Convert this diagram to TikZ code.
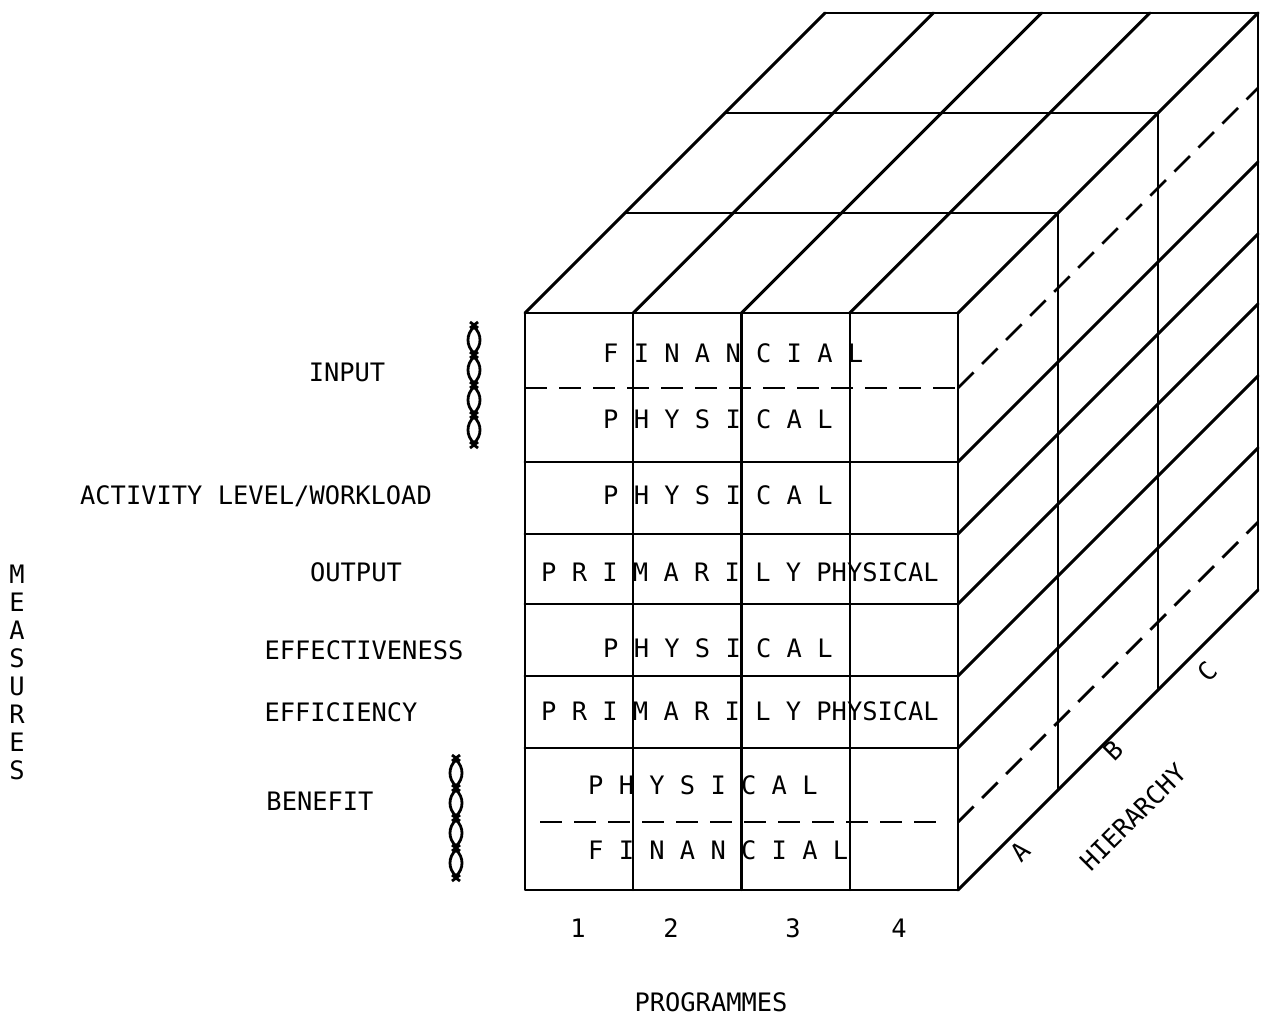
\documentclass[tikz,border=0pt]{standalone}
\usepackage{fontspec}
\newfontfamily\plotfont{DejaVu Sans Mono}
\begin{document}
\begin{tikzpicture}[x=1pt,y=-1pt,
  edge/.style={line width=2.9pt, line cap=round, line join=round},
  thin edge/.style={line width=2.3pt, line cap=round},
  split/.style={line width=2.8pt, dash pattern=on 22pt off 12pt},
  lbl/.style={font=\plotfont\fontsize{25.4}{30}\selectfont, inner sep=0pt,
              text height=18.5pt, text depth=0pt},
  rowtext/.style={lbl, anchor=west},
  axislabel/.style={lbl, anchor=center},
  link/.style={line width=2.8pt}
]
\useasboundingbox (0,0) rectangle (1269,1017);

% ---------- front face (measures x programmes) ----------
\draw[edge] (525,313) rectangle (958,890);
\foreach \x in {633.25,741.5,849.75}
  \draw[thin edge] (\x,313) -- (\x,890);
\foreach \y in {462,534,604,676,748}
  \draw[edge] (525,\y) -- (958,\y);
\draw[split] (525,388) -- (958,388);
\draw[split] (540,822) -- (940,822);

% ---------- top face ----------
\draw[edge] (625,213) -- (1058,213);
\draw[edge] (725,113) -- (1158,113);
\draw[edge] (825,13) -- (1258,13);
\foreach \x in {525,633.25,741.5,849.75,958}
  \draw[edge] (\x,313) -- (\x+300,13);

% ---------- right face (hierarchy A, B, C) ----------
\draw[edge] (1058,213) -- (1058,790);
\draw[edge] (1158,113) -- (1158,690);
\draw[edge] (1258,13) -- (1258,590);
\foreach \y in {462,534,604,676,748,890}
  \draw[edge] (958,\y) -- (1258,\y-300);
\draw[split] (958,388) -- (1258,88);
\draw[split] (958,822) -- (1258,522);

% ---------- cell texts ----------
\node[rowtext] (r1) at (603,353) {F I N A N C I A L};
\node[rowtext] (r2) at (603,419) {P H Y S I C A L};
\node[rowtext] (r3) at (603,495) {P H Y S I C A L};
\node[rowtext] (r4) at (541,572) {P R I M A R I L Y PHYSICAL};
\node[rowtext] (r5) at (603,648) {P H Y S I C A L};
\node[rowtext] (r6) at (541,711) {P R I M A R I L Y PHYSICAL};
\node[rowtext] (r7) at (588,785) {P H Y S I C A L};
\node[rowtext] (r8) at (588,850) {F I N A N C I A L};

% ---------- measure labels ----------
\node[axislabel] (input)    at (347,372) {INPUT};
\node[axislabel] (activity) at (256,495) {ACTIVITY LEVEL/WORKLOAD};
\node[axislabel] (output)   at (356,572) {OUTPUT};
\node[axislabel] (effect)   at (364,650) {EFFECTIVENESS};
\node[axislabel] (effic)    at (341,712) {EFFICIENCY};
\node[axislabel] (benefit)  at (320,801) {BENEFIT};

\foreach \c [count=\i from 0] in {M,E,A,S,U,R,E,S}
  \node[axislabel] (measure\i) at (17,574+28*\i) {\c};

% ---------- chain braces ----------
\foreach \xc/\ys in {474/325, 456/758} {
  \foreach \k in {0,1,2,3} {
    \pgfmathsetmacro\ya{\ys+30*\k}
    \pgfmathsetmacro\yb{\ys+30*\k+30}
    \draw[link] (\xc,\ya+2) .. controls (\xc-8,\ya+9) and (\xc-8,\yb-9) .. (\xc,\yb-2)
                .. controls (\xc+8,\yb-9) and (\xc+8,\ya+9) .. cycle;
  }
  \foreach \k in {0,1,2,3,4} {
    \pgfmathsetmacro\yj{\ys+30*\k}
    \draw[link] (\xc-4,\yj-3) -- (\xc+4,\yj+3);
    \draw[link] (\xc+4,\yj-3) -- (\xc-4,\yj+3);
  }
}

% ---------- programme numbers ----------
\node[axislabel] (p1) at (578,928) {1};
\node[axislabel] (p2) at (671,928) {2};
\node[axislabel] (p3) at (793,928) {3};
\node[axislabel] (p4) at (899,928) {4};
\node[axislabel] (programmes) at (711,1002) {PROGRAMMES};

% ---------- hierarchy labels ----------
\node[axislabel, rotate=45] (ha) at (1020,852) {A};
\node[axislabel, rotate=45] (hb) at (1113,751) {B};
\node[axislabel, rotate=45] (hc) at (1207,672) {C};
\node[axislabel, rotate=45] (hierarchy) at (1133,817) {HIERARCHY};
\end{tikzpicture}
\end{document}
